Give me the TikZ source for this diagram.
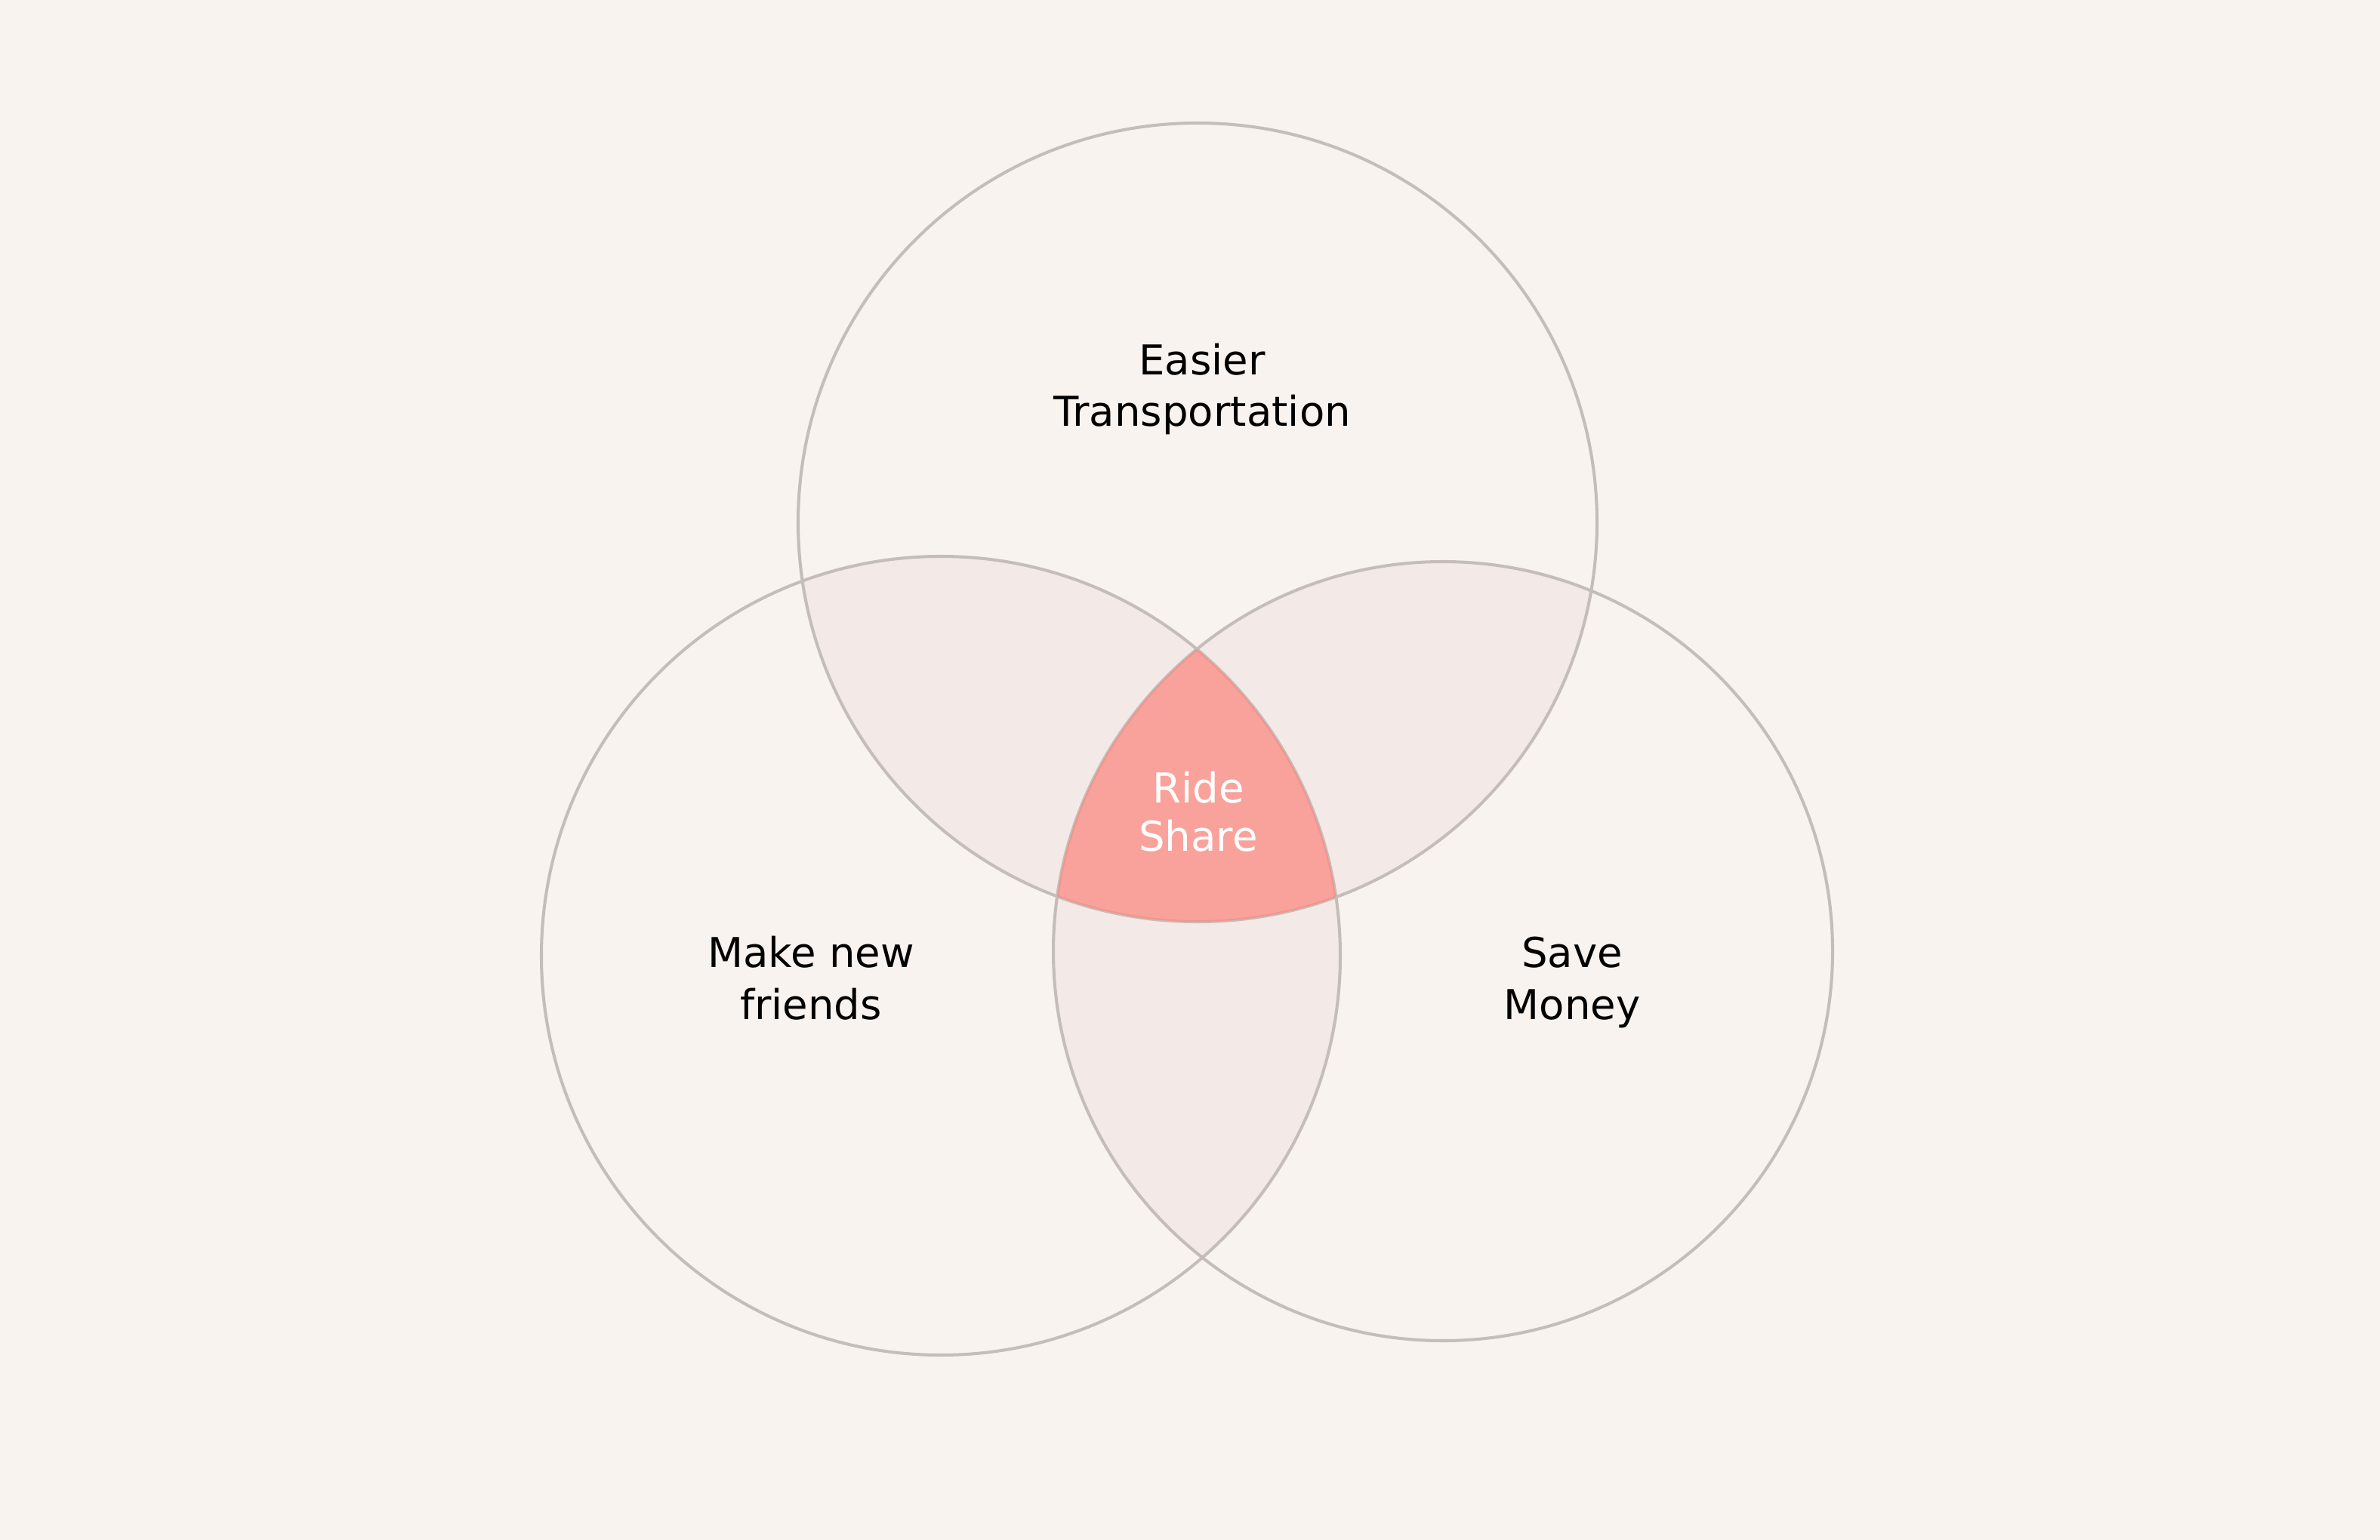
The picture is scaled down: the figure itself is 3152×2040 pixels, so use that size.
\documentclass[tikz,border=0pt]{standalone}
\usepackage{fontspec}
\setmainfont{DejaVu Sans}
\definecolor{bg}{HTML}{F8F3EF}
\definecolor{lensfill}{HTML}{F3EAE7}
\definecolor{ringcol}{HTML}{C4BDBA}
\definecolor{corefill}{HTML}{F9A29B}
\definecolor{coreedge}{HTML}{F0958E}
\tikzset{
  ring/.style={draw=ringcol, line width=1.15pt},
  lens/.style={fill=lensfill},
  coreline/.style={draw=coreedge, line width=1.15pt},
  label/.style={align=center, inner sep=0pt, anchor=base, text=black,
    font=\fontsize{15.5pt}{19.6pt}\selectfont},
  corelabel/.style={align=center, inner sep=0pt, anchor=base, text=white,
    font=\fontsize{15.5pt}{18.2pt}\selectfont}
}
\begin{document}
\begin{tikzpicture}[x=0.01cm,y=-0.01cm]
\fill[bg] (0,0) rectangle (3152,2040);
\useasboundingbox (0,0) rectangle (3152,2040);
\coordinate (T) at (1586,692);
\coordinate (L) at (1246,1266);
\coordinate (R) at (1911,1260);
% pairwise overlaps
\begin{scope}
  \clip (T) circle[radius=529];
  \fill[lens] (L) circle[radius=529];
  \fill[lens] (R) circle[radius=516];
\end{scope}
\begin{scope}
  \clip (L) circle[radius=529];
  \fill[lens] (R) circle[radius=516];
\end{scope}
% outlines
\draw[ring] (T) circle[radius=529];
\draw[ring] (L) circle[radius=529];
\draw[ring] (R) circle[radius=516];
% triple overlap
\begin{scope}
  \clip (T) circle[radius=529];
  \clip (L) circle[radius=529];
  \clip (R) circle[radius=516];
  \fill[corefill] (0,0) rectangle (3152,2040);
  \draw[coreline] (T) circle[radius=529];
  \draw[coreline] (L) circle[radius=529];
  \draw[coreline] (R) circle[radius=516];
\end{scope}
% labels
\node[label] (easier) at (1592,565) {Easier\\Transportation};
\node[label] (friends) at (1074,1350) {Make new\\friends};
\node[label] (money) at (2082,1350) {Save\\Money};
\node[corelabel] (ride) at (1587,1127) {Ride\\Share};
\end{tikzpicture}
\end{document}
